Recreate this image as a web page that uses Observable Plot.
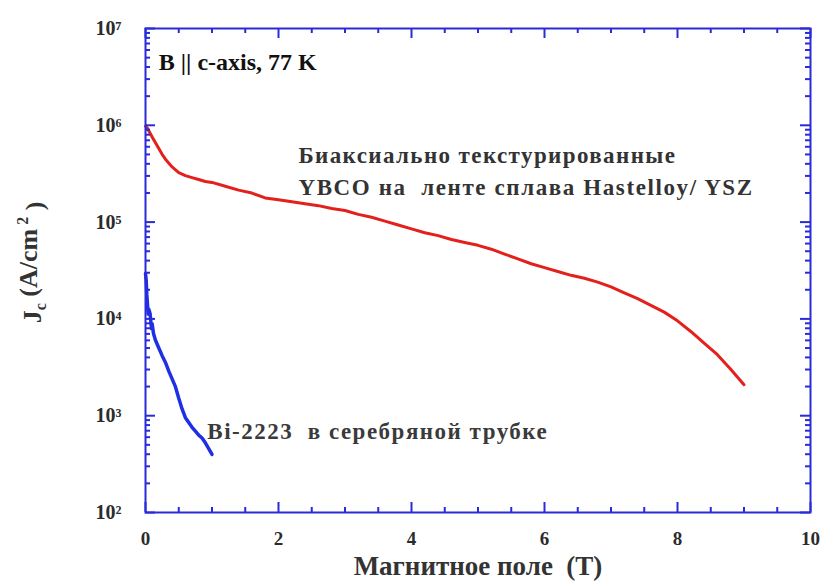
<!DOCTYPE html>
<html>
<head>
<meta charset="utf-8">
<script src="https://cdn.jsdelivr.net/npm/d3@7"></script>
<script src="https://cdn.jsdelivr.net/npm/@observablehq/plot@0.6"></script>
<style>
  html, body { margin: 0; padding: 0; background: #fff; }
</style>
</head>
<body>
<div id="chart"></div>
<script>
// ---- Data ----
// YBCO on Hastelloy/YSZ tape: field (T) and log10(Jc)
const ybcoField = [0, 0.03, 0.06, 0.1, 0.15, 0.2, 0.25, 0.3, 0.4, 0.5, 0.6, 0.7, 0.8, 0.9, 1.0,
  1.2, 1.4, 1.6, 1.8, 2.0, 2.2, 2.4, 2.6, 2.8, 3.0, 3.2, 3.4, 3.6, 3.8, 4.0, 4.2, 4.4, 4.6, 4.8,
  5.0, 5.2, 5.4, 5.6, 5.8, 6.0, 6.2, 6.4, 6.6, 6.8, 7.0, 7.2, 7.4, 7.6, 7.8, 8.0, 8.2, 8.4, 8.6, 8.8, 9.0];
const ybcoLogJc = [5.99, 5.97, 5.93, 5.88, 5.82, 5.76, 5.70, 5.65, 5.57, 5.51, 5.48, 5.46, 5.44, 5.42, 5.41,
  5.37, 5.33, 5.30, 5.25, 5.23, 5.21, 5.19, 5.17, 5.14, 5.12, 5.08, 5.05, 5.01, 4.97, 4.93, 4.89, 4.86, 4.82, 4.79,
  4.76, 4.72, 4.67, 4.62, 4.57, 4.53, 4.49, 4.45, 4.42, 4.38, 4.33, 4.27, 4.21, 4.14, 4.07, 3.98, 3.87, 3.75, 3.63, 3.48, 3.32];

// Bi-2223 in silver tube
const biField = [0, 0.01, 0.02, 0.03, 0.04, 0.05, 0.07, 0.09, 0.1, 0.12, 0.15, 0.2, 0.25, 0.3, 0.35,
  0.4, 0.45, 0.5, 0.55, 0.6, 0.65, 0.7, 0.75, 0.8, 0.85, 0.9, 0.95, 1.0];
const biLogJc = [4.47, 4.40, 4.25, 4.15, 4.05, 4.10, 4.05, 3.90, 3.95, 3.85, 3.78, 3.70, 3.62, 3.55, 3.46,
  3.38, 3.30, 3.18, 3.07, 2.98, 2.93, 2.88, 2.84, 2.80, 2.77, 2.72, 2.66, 2.60];

// Ticks
const xMajorTicks = [0, 2, 4, 6, 8, 10];
const xMinorTicks = [0.5, 1, 1.5, 2.5, 3, 3.5, 4.5, 5, 5.5, 6.5, 7, 7.5, 8.5, 9, 9.5];
const yMajorTicks = [1e2, 1e3, 1e4, 1e5, 1e6, 1e7];
const yMinorMultipliers = [2, 3, 4, 5, 6, 7, 8, 9];
const yExponentLabels = {2: "²", 3: "³", 4: "⁴", 5: "⁵", 6: "⁶", 7: "⁷"};

// Annotations
const conditionLabel = [{x: 0.2, y: 4.5e6, text: "B || c-axis, 77 K"}];
const ybcoLabel = [
  {x: 2.3, y: 4.9e5, text: "Биаксиально текстурированные"},
  {x: 2.3, y: 2.28e5, text: "YBCO на  ленте сплава Hastelloy/ YSZ"}
];
const biLabel = [{x: 0.93, y: 680, text: "Bi-2223  в серебряной трубке"}];
const xAxisLabel = "Магнитное поле  (T)";
const yAxisLabel = "JC_LABEL";

// ---- Build tables ----
const ybco = ybcoField.map((f, i) => ({field: f, jc: Math.pow(10, ybcoLogJc[i])}));
const bi = biField.map((f, i) => ({field: f, jc: Math.pow(10, biLogJc[i])}));
const yMinorTicks = [];
for (let e = 2; e < 7; e++) for (const m of yMinorMultipliers) yMinorTicks.push(m * Math.pow(10, e));

const W = 821, H = 585, ML = 145, MR = 11, MT = 28, MB = 73;
const frameW = W - ML - MR, frameH = H - MT - MB;
const majorLen = 10, minorLen = 5;

const frameBlue = "#2a2ad8";
const serif = "Liberation Serif, Times New Roman, serif";
const textGray = "#2b2b2b";

const chart = Plot.plot({
  width: W, height: H,
  marginLeft: ML, marginRight: MR, marginTop: MT, marginBottom: MB,
  style: {background: "#fff", fontFamily: serif},
  x: {domain: [0, 10], axis: null},
  y: {type: "log", domain: [1e2, 1e7], axis: null},
  marks: [
    // Tick labels
    Plot.axisX(xMajorTicks, {anchor: "bottom", tickSize: 0, tickPadding: 19, tickFormat: d => String(d), fontSize: 19, fontWeight: "bold", fill: textGray, label: null}),
    Plot.axisY(yMajorTicks, {anchor: "left", tickSize: 0, tickPadding: 24,
      tickFormat: d => "10" + yExponentLabels[Math.round(Math.log10(d))], fontSize: 20, fontWeight: "bold", fill: textGray, label: null}),
    // Curves
    Plot.line(ybco, {x: "field", y: "jc", stroke: "#e3201b", strokeWidth: 3}),
    Plot.line(bi, {x: "field", y: "jc", stroke: "#1f2fe6", strokeWidth: 3.5}),
    // Annotations
    Plot.text(conditionLabel, {x: "x", y: "y", text: "text", textAnchor: "start", fontSize: 24, fontWeight: "bold", fill: "#111"}),
    Plot.text(ybcoLabel, {x: "x", y: "y", text: "text", textAnchor: "start", fontSize: 23, fontWeight: "bold", fill: "#333"}),
    Plot.text(biLabel, {x: "x", y: "y", text: "text", textAnchor: "start", fontSize: 23, fill: "#3a3a3a", fontWeight: "bold"}),
    // Axis titles
    Plot.text([xAxisLabel], {frameAnchor: "bottom", dy: 62, text: d => d, fontSize: 27, fontWeight: "bold", fill: "#333"}),
    Plot.text([yAxisLabel], {frameAnchor: "left", dx: -113, dy: -8, rotate: -90, text: d => d, fontSize: 26, fontWeight: "bold", fill: "#333"}),
    // Frame and inward ticks on all four sides (drawn last, on top)
    Plot.frame({stroke: frameBlue, strokeWidth: 2}),
    Plot.tickX(xMajorTicks, {x: d => d, insetTop: frameH - majorLen, stroke: frameBlue, strokeWidth: 2}),
    Plot.tickX(xMinorTicks, {x: d => d, insetTop: frameH - minorLen, stroke: frameBlue, strokeWidth: 2}),
    Plot.tickX(xMajorTicks, {x: d => d, insetBottom: frameH - majorLen, stroke: frameBlue, strokeWidth: 2}),
    Plot.tickX(xMinorTicks, {x: d => d, insetBottom: frameH - minorLen, stroke: frameBlue, strokeWidth: 2}),
    Plot.tickY(yMajorTicks, {y: d => d, insetRight: frameW - majorLen, stroke: frameBlue, strokeWidth: 2}),
    Plot.tickY(yMinorTicks, {y: d => d, insetRight: frameW - minorLen, stroke: frameBlue, strokeWidth: 2}),
    Plot.tickY(yMajorTicks, {y: d => d, insetLeft: frameW - majorLen, stroke: frameBlue, strokeWidth: 2}),
    Plot.tickY(yMinorTicks, {y: d => d, insetLeft: frameW - minorLen, stroke: frameBlue, strokeWidth: 2})
  ]
});

document.getElementById("chart").appendChild(chart);

// Letter spacing to match the wide annotation lettering of the reference
const spacing = new Map([
  [ybcoLabel[0].text, 1.4], [ybcoLabel[1].text, 1.6], [biLabel[0].text, 1.5]
]);
d3.select(chart).selectAll("text").each(function() {
  const s = spacing.get(this.textContent);
  if (s != null) d3.select(this).attr("letter-spacing", s);
});

// Replace placeholder y label with subscript/superscript tspans, centered explicitly
d3.select(chart).selectAll("text").filter(function() { return this.textContent === "JC_LABEL"; })
  .each(function() {
    const t = d3.select(this);
    t.text(null);
    t.append("tspan").text("J");
    t.append("tspan").attr("font-size", 16).attr("dy", "0.35em").text("c");
    t.append("tspan").attr("dy", "-0.35em").text(" (A/cm");
    t.append("tspan").attr("font-size", 16).attr("dy", "-0.6em").text(" 2");
    t.append("tspan").attr("dy", "0.6em").text(" )");
    t.attr("text-anchor", "start");
    const len = this.getComputedTextLength();
    t.attr("x", -len / 2);
  });
</script>
</body>
</html>
